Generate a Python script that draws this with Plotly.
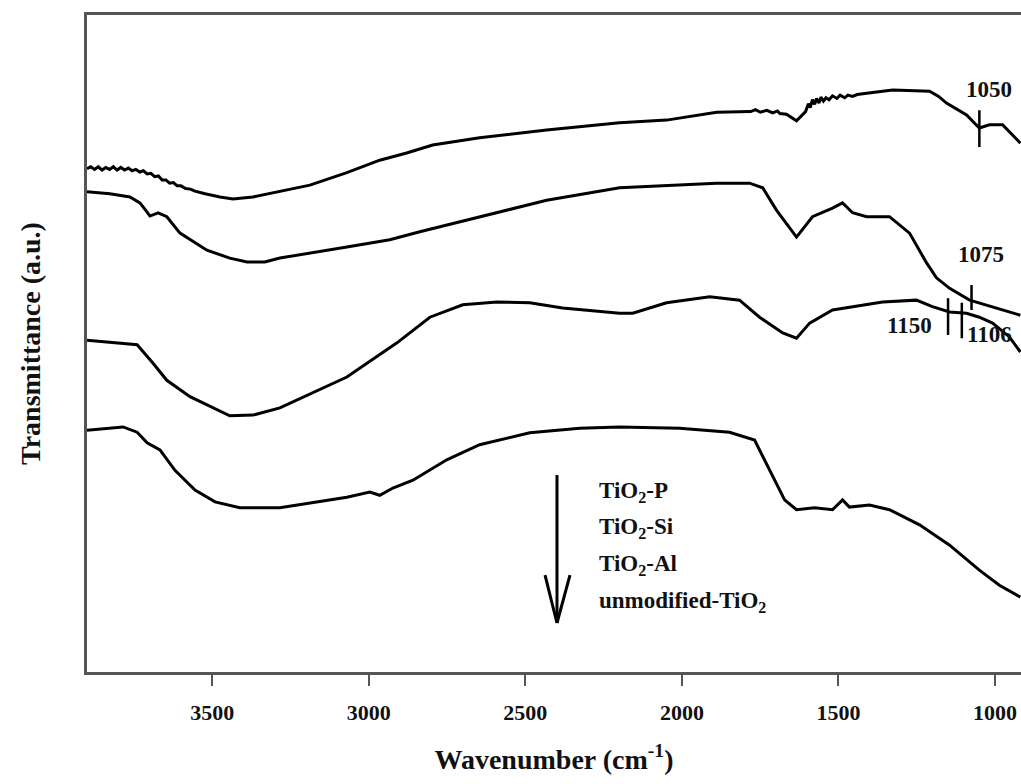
import plotly.graph_objects as go

# ---- data ----
wn_p = [3900, 3888, 3876, 3864, 3852, 3840, 3828, 3816, 3804, 3792, 3780, 3768, 3756, 3744,
        3732, 3720, 3708, 3696, 3684, 3672, 3660, 3648, 3636, 3624, 3612, 3600, 3585, 3570,
        3555, 3540, 3523, 3475, 3434, 3370,
        3284, 3188, 3070, 2965, 2879, 2796, 2646, 2432, 2199, 2049, 1889, 1780, 1765, 1750,
        1729, 1710, 1695, 1687, 1666,
        1634, 1605, 1596, 1590, 1583, 1576, 1570, 1562, 1556, 1548, 1540, 1530, 1519, 1505,
        1495, 1480, 1470, 1455, 1440, 1410,
        1327, 1209, 1180, 1155, 1091, 1050, 1018, 976, 919]
t_p = [76.6, 76.9, 76.5, 76.9, 76.4, 76.8, 76.5, 76.9, 76.4, 76.8, 76.4, 76.7, 76.3, 76.5,
       76.1, 76.3, 75.8, 75.9, 75.4, 75.5, 74.9, 74.9, 74.4, 74.5, 74.0, 74.0, 73.6, 73.5,
       73.2, 73.0, 72.8, 72.3, 72.0, 72.3,
       73.1, 74.1, 76.0, 77.9, 79.0, 80.2, 81.3, 82.5, 83.6, 84.0, 85.2, 85.3, 85.6, 85.2,
       85.5, 85.1, 85.4, 85.0, 84.9,
       83.9, 85.3, 86.5, 85.9, 87.1, 86.4, 87.3, 86.6, 87.5, 86.9, 87.4, 87.1, 87.7, 87.3,
       87.8, 87.4, 87.8, 87.6, 87.9, 88.1,
       88.6, 88.4, 87.6, 86.6, 84.8, 82.8, 83.3, 83.3, 80.5]

wn_si = [3900, 3827, 3763, 3731, 3708, 3699, 3673, 3645, 3603, 3555, 3517, 3444, 3389, 3332,
         3284, 3070, 2933, 2837, 2646, 2432, 2199, 2049, 1889, 1784, 1742, 1698, 1634, 1583,
         1519, 1487, 1455, 1410, 1337, 1273, 1219, 1187, 1145, 1081, 1008, 919]
t_si = [73.1, 72.8, 72.3, 71.4, 70.0, 69.4, 69.9, 69.3, 66.8, 65.3, 64.2, 63.0, 62.4, 62.4,
        63.0, 64.7, 65.8, 67.0, 69.3, 71.8, 73.7, 74.0, 74.4, 74.4, 73.7, 70.3, 66.2, 69.3,
        70.6, 71.4, 69.9, 69.3, 69.3, 66.8, 62.3, 60.0, 58.4, 56.6, 55.6, 54.3]

wn_al = [3900, 3740, 3689, 3645, 3571, 3498, 3444, 3370, 3284, 3070, 2910, 2805, 2700, 2591,
         2486, 2381, 2199, 2157, 2049, 1911, 1816, 1752, 1678, 1634, 1592, 1519, 1359, 1251,
         1200, 1145, 1091, 1050, 1008, 954, 919]
t_al = [50.5, 49.8, 47.0, 44.4, 41.9, 40.2, 39.0, 39.1, 40.2, 44.9, 50.1, 54.0, 55.9, 56.3,
        56.2, 55.4, 54.6, 54.6, 56.2, 57.1, 56.6, 54.0, 51.6, 50.8, 53.1, 55.1, 56.3, 56.6,
        55.6, 54.8, 54.6, 54.0, 53.1, 51.0, 48.7]

wn_un = [3900, 3785, 3740, 3708, 3667, 3619, 3555, 3491, 3412, 3284, 3070, 2997, 2965, 2923,
         2859, 2751, 2646, 2486, 2326, 2199, 2007, 1848, 1768, 1720, 1672, 1634, 1576, 1519,
         1487, 1465, 1401, 1337, 1241, 1145, 1050, 986, 919]
t_un = [36.8, 37.3, 36.5, 34.9, 33.8, 30.7, 27.7, 25.9, 25.0, 25.0, 26.6, 27.4, 26.9, 28.0,
        29.2, 32.3, 34.6, 36.4, 37.1, 37.3, 37.1, 36.5, 35.3, 30.7, 26.2, 24.7, 25.0, 24.7,
        26.2, 25.1, 25.4, 24.7, 22.4, 19.3, 15.5, 13.2, 11.4]

series_names = ["TiO<sub>2</sub>-P", "TiO<sub>2</sub>-Si", "TiO<sub>2</sub>-Al", "unmodified-TiO<sub>2</sub>"]

# peak markers: position, lower and upper transmittance of the mark
peak_pos = [1050, 1075, 1150, 1106]
peak_lo = [79.9, 55.1, 51.3, 50.8]
peak_hi = [85.5, 58.9, 56.9, 56.2]
peak_labels = ["1050", "1075", "1150", "1106"]
label_wn = [1018, 1046, 1273, 1018]
label_t = [88.7, 63.5, 52.8, 51.3]

xticks = [3500, 3000, 2500, 2000, 1500, 1000]

FONT = "Liberation Serif"

fig = go.Figure()
for wn, t in [(wn_p, t_p), (wn_si, t_si), (wn_al, t_al), (wn_un, t_un)]:
    fig.add_trace(go.Scatter(x=wn, y=t, mode="lines",
                             line=dict(color="black", width=3), showlegend=False,
                             hoverinfo="skip"))

for p, lo, hi in zip(peak_pos, peak_lo, peak_hi):
    fig.add_shape(type="line", xref="x", yref="y", x0=p, x1=p, y0=lo, y1=hi,
                  line=dict(color="black", width=2.5))

for lab, lx, ly in zip(peak_labels, label_wn, label_t):
    fig.add_annotation(x=lx, y=ly, xref="x", yref="y", text="<b>%s</b>" % lab,
                       xanchor="center", yanchor="middle",
                       showarrow=False, font=dict(family=FONT, size=23, color="#111"))

# arrow (vertical line with open V head)
ax_x, ax_top, ax_bot = 0.5032, 0.2998, 0.0746
fig.add_shape(type="line", xref="paper", yref="paper", x0=ax_x, x1=ax_x, y0=ax_top, y1=ax_bot,
              line=dict(color="black", width=3))
fig.add_shape(type="line", xref="paper", yref="paper", x0=0.4904, x1=ax_x, y0=0.1476, y1=ax_bot,
              line=dict(color="black", width=3))
fig.add_shape(type="line", xref="paper", yref="paper", x0=0.5171, x1=ax_x, y0=0.1476, y1=ax_bot,
              line=dict(color="black", width=3))

legend_y = [0.2740, 0.2192, 0.1629, 0.1066]
for name, ly in zip(series_names, legend_y):
    fig.add_annotation(x=0.5460, y=ly, xref="paper", yref="paper", xanchor="left",
                       yanchor="middle",
                       text="<b>%s</b>" % name, showarrow=False,
                       font=dict(family=FONT, size=23, color="#111"))

fig.update_layout(
    width=1021, height=784,
    margin=dict(l=87, r=0, t=15, b=112),
    paper_bgcolor="white", plot_bgcolor="white",
    font=dict(family=FONT, color="#111"),
    xaxis=dict(range=[3900, 917], showgrid=False, zeroline=False,
               showline=True, linecolor="#555", linewidth=2.5, mirror=True,
               ticks="outside", ticklen=11, tickwidth=2, tickcolor="#555",
               tickvals=xticks, ticktext=["<b>%d</b>" % v for v in xticks],
               tickfont=dict(family=FONT, size=22, color="#111"),
               ticklabelstandoff=8,
               title=dict(text="<b>Wavenumber (cm<sup>-1</sup>)</b>",
                          font=dict(family=FONT, size=28, color="#111"), standoff=26)),
    yaxis=dict(range=[0, 100], showgrid=False, zeroline=False,
               showline=True, linecolor="#555", linewidth=2.5,
               showticklabels=False, ticks="",
               title=dict(text="<b>Transmittance (a.u.)</b>",
                          font=dict(family=FONT, size=28, color="#111"), standoff=36)),
)

fig.write_html("out.html")
